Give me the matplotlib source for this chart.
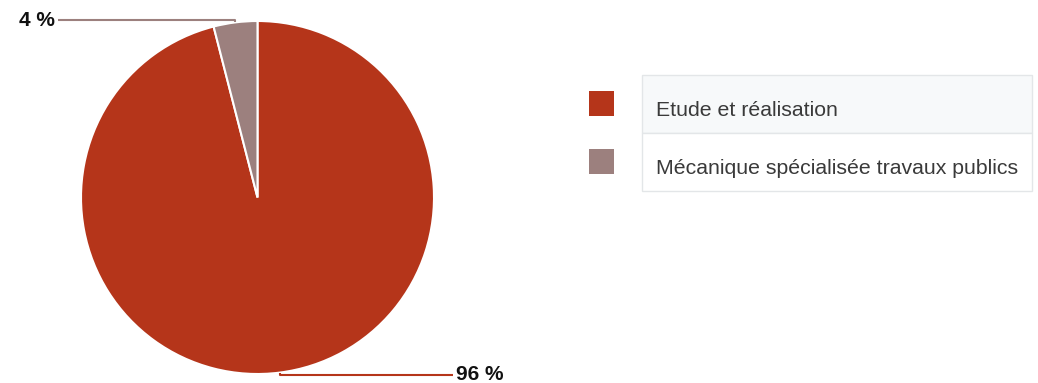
import matplotlib.pyplot as plt
import numpy as np
from matplotlib.patches import Rectangle

# data
labels = ["Etude et réalisation", "Mécanique spécialisée travaux publics"]
values = [96, 4]
colors = ["#b5351a", "#9c807e"]
pct_text = ["96 %", "4 %"]

W, H = 1038, 383
fig = plt.figure(figsize=(W / 100, H / 100), dpi=100)
ax = fig.add_axes([0, 0, 1, 1])

# pie in pixel-like data coords (y up)
cx, cy, r = 257.5, H - 197.5, 176.5
wedges, _ = ax.pie(
    values,
    colors=colors,
    startangle=90,
    counterclock=False,
    center=(cx, cy),
    radius=r,
    wedgeprops=dict(edgecolor="white", linewidth=1.5),
)
ax.set_xlim(0, W)
ax.set_ylim(0, H)
ax.set_aspect("equal")
ax.axis("off")

# leader lines + percentage labels
for w, txt, col in zip(wedges, pct_text, colors):
    mid = np.deg2rad((w.theta1 + w.theta2) / 2)
    px, py = cx + r * np.cos(mid), cy + r * np.sin(mid)
    if py > cy:
        ly = py + 2
        lx = 58
        ax.plot([px, px, lx], [py, ly, ly], color=col, lw=1.5, solid_capstyle="butt")
        ax.text(lx - 3, ly, txt, ha="right", va="center", fontsize=15,
                fontweight="bold", family="Liberation Sans", color="#111111")
    else:
        ly = py - 2
        lx = 453
        ax.plot([px, px, lx], [py, ly, ly], color=col, lw=1.5, solid_capstyle="butt")
        ax.text(lx + 3, ly, txt, ha="left", va="center", fontsize=15,
                fontweight="bold", family="Liberation Sans", color="#111111")

# legend table
x0, x1 = 642, 1032
row_h = 58
top = 75
for i, (lab, col) in enumerate(zip(labels, colors)):
    y_top = top + i * row_h
    face = "#f7f9fa" if i == 0 else "white"
    ax.add_patch(Rectangle((x0, H - y_top - row_h), x1 - x0, row_h,
                           facecolor=face, edgecolor="#e3e6e8", lw=1))
    ax.add_patch(Rectangle((589, H - y_top - 16 - 25), 25, 25,
                           facecolor=col, edgecolor="none"))
    ax.text(656, H - y_top - row_h / 2 - 6, lab, ha="left", va="center",
            fontsize=15.3, family="Liberation Sans", color="#3a3a3a")

fig.savefig("out.png", dpi=100)
